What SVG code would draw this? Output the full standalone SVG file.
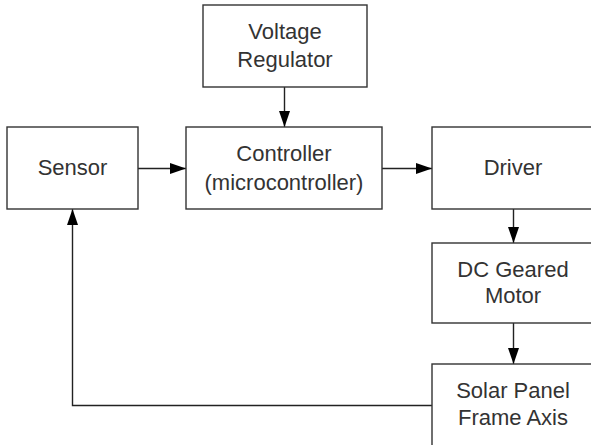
<svg xmlns="http://www.w3.org/2000/svg" width="591" height="445" viewBox="0 0 591 445">
<style>
.box{fill:#fff;stroke:#333;stroke-width:1.4}
.lbl{font-family:"Liberation Sans",Arial,sans-serif;font-size:22px;fill:#333;text-anchor:middle}
.conn{fill:none;stroke:#222;stroke-width:1.4}
</style>
<defs>
<marker id="arr" markerUnits="userSpaceOnUse" markerWidth="16" markerHeight="12" refX="16" refY="6" orient="auto">
<path d="M0,0.5 L16,6 L0,11.5 Z" fill="#000"/>
</marker>
</defs>
<rect width="591" height="445" fill="#fff"/>
<g id="connectors">
<line class="conn" x1="284.5" y1="87" x2="284.5" y2="127" marker-end="url(#arr)"/>
<line class="conn" x1="138" y1="168.5" x2="186" y2="168.5" marker-end="url(#arr)"/>
<line class="conn" x1="382" y1="168.5" x2="432" y2="168.5" marker-end="url(#arr)"/>
<line class="conn" x1="513.5" y1="209" x2="513.5" y2="243" marker-end="url(#arr)"/>
<line class="conn" x1="513.5" y1="323" x2="513.5" y2="364" marker-end="url(#arr)"/>
<polyline class="conn" points="432,405.5 72.5,405.5 72.5,209" marker-end="url(#arr)"/>
</g>
<g id="voltage-regulator">
<rect class="box" x="203" y="5" width="164" height="82"/>
<text class="lbl" x="285" y="39">Voltage</text>
<text class="lbl" x="285" y="67">Regulator</text>
</g>
<g id="sensor">
<rect class="box" x="7" y="127" width="131" height="82"/>
<text class="lbl" x="72.5" y="175">Sensor</text>
</g>
<g id="controller">
<rect class="box" x="186" y="127" width="196" height="82"/>
<text class="lbl" x="284" y="161">Controller</text>
<text class="lbl" x="284" y="190">(microcontroller)</text>
</g>
<g id="driver">
<rect class="box" x="432" y="127" width="164" height="82"/>
<text class="lbl" x="513" y="175">Driver</text>
</g>
<g id="dc-geared-motor">
<rect class="box" x="432" y="243" width="164" height="80"/>
<text class="lbl" x="513" y="277">DC Geared</text>
<text class="lbl" x="513" y="303">Motor</text>
</g>
<g id="solar-panel-frame-axis">
<rect class="box" x="432" y="364" width="164" height="84"/>
<text class="lbl" x="513" y="398">Solar Panel</text>
<text class="lbl" x="513" y="425">Frame Axis</text>
</g>
</svg>
